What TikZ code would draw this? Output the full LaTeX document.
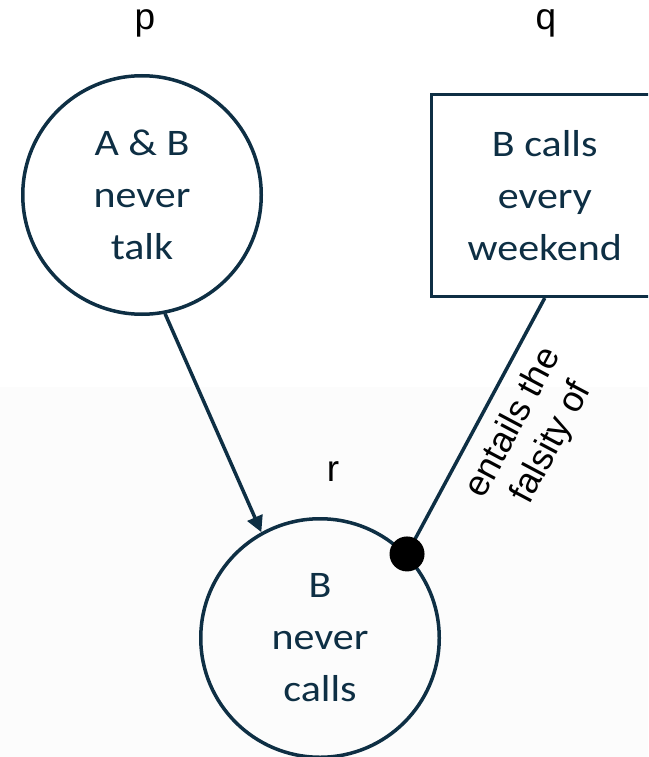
\documentclass[tikz,border=0pt]{standalone}
\usepackage{fontspec}
\setmainfont{Carlito}[FakeStretch=1.12]
\newfontfamily\arialfont{Liberation Sans}
\usetikzlibrary{arrows.meta}
\definecolor{ink}{HTML}{0E2F44}
\definecolor{bglow}{HTML}{FCFCFC}
\begin{document}
\begin{tikzpicture}[x=1pt,y=-1pt,
  prop/.style={draw=ink, line width=3.5pt, text=ink, align=center,
    font=\fontsize{37.5}{52}\selectfont, inner sep=0pt},
  propcircle/.style={prop, circle, minimum size=238.5pt},
  propbox/.style={prop, rectangle, minimum width=226.5pt, minimum height=201.5pt},
  letter/.style={font=\arialfont\fontsize{37}{40}\selectfont, text=black, inner sep=0pt},
  link/.style={draw=ink, line width=3.5pt},
  rel/.style={font=\arialfont\fontsize{36}{43}\selectfont, text=black, align=center, inner sep=0pt}
]
\clip (0,0) rectangle (648,757);
\fill[white] (0,0) rectangle (648,387);
\fill[bglow] (0,387) rectangle (648,757);

\node[letter] (lp) at (145,23) {p};
\node[letter] (lq) at (546,23) {q};
\node[letter] (lr) at (333,472) {r};

\node[propcircle] (p) at (142,195) {A \& B\\never\\talk};
\node[propbox, anchor=west] (q) at (429.75,195.5) {B calls\\every\\weekend};
\node[propcircle] (r) at (320,638) {B\\never\\calls};

\draw[link, -{Triangle[length=16pt,width=16pt]}] (p.281) -- (r.119);
\coordinate (dot) at (r.44);
\draw[link] (q.south) -- (dot);
\fill[black] (dot) circle (17.5pt);

\node[rel, rotate=62] (lab) at (533,433) {entails the\\falsity of};
\end{tikzpicture}
\end{document}
